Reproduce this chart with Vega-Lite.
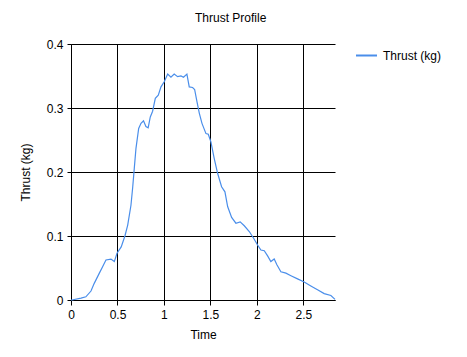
{
  "$schema": "https://vega.github.io/schema/vega-lite/v6.json",
  "width": 264,
  "height": 256,
  "padding": {"left": 19, "top": 12, "right": 5, "bottom": 5},
  "background": "white",
  "title": {"text": "Thrust Profile", "fontSize": 12, "font": "Liberation Sans", "fontWeight": "normal", "color": "#000", "anchor": "middle", "frame": "bounds", "offset": 13},
  "config": {
    "view": {"stroke": null},
    "font": "Liberation Sans",
    "axis": {"gridColor": "#000", "gridOpacity": 1, "gridWidth": 1, "domainColor": "#000", "tickColor": "#000", "tickSize": 5, "labelColor": "#000", "labelFontSize": 12, "titleColor": "#000", "titleFontSize": 12, "titleFontWeight": "normal", "labelFont": "Liberation Sans", "titleFont": "Liberation Sans"}
  },
  "data": {"values": [
    {"t": 0.0, "v": 0.0},
    {"t": 0.01, "v": 0.0},
    {"t": 0.108, "v": 0.003},
    {"t": 0.16, "v": 0.005},
    {"t": 0.215, "v": 0.014},
    {"t": 0.25, "v": 0.026},
    {"t": 0.305, "v": 0.042},
    {"t": 0.34, "v": 0.052},
    {"t": 0.376, "v": 0.0625},
    {"t": 0.43, "v": 0.064},
    {"t": 0.466, "v": 0.06},
    {"t": 0.495, "v": 0.073},
    {"t": 0.54, "v": 0.083},
    {"t": 0.58, "v": 0.1},
    {"t": 0.61, "v": 0.117},
    {"t": 0.645, "v": 0.148},
    {"t": 0.663, "v": 0.175},
    {"t": 0.681, "v": 0.206},
    {"t": 0.699, "v": 0.237},
    {"t": 0.728, "v": 0.268},
    {"t": 0.753, "v": 0.276},
    {"t": 0.78, "v": 0.28},
    {"t": 0.806, "v": 0.271},
    {"t": 0.83, "v": 0.269},
    {"t": 0.853, "v": 0.286},
    {"t": 0.878, "v": 0.295},
    {"t": 0.907, "v": 0.315},
    {"t": 0.939, "v": 0.32},
    {"t": 0.968, "v": 0.333},
    {"t": 1.003, "v": 0.341},
    {"t": 1.04, "v": 0.353},
    {"t": 1.075, "v": 0.348},
    {"t": 1.11, "v": 0.353},
    {"t": 1.147, "v": 0.349},
    {"t": 1.183, "v": 0.35},
    {"t": 1.21, "v": 0.348},
    {"t": 1.247, "v": 0.353},
    {"t": 1.272, "v": 0.333},
    {"t": 1.308, "v": 0.332},
    {"t": 1.33, "v": 0.329},
    {"t": 1.355, "v": 0.31},
    {"t": 1.38, "v": 0.292},
    {"t": 1.409, "v": 0.276},
    {"t": 1.452, "v": 0.26},
    {"t": 1.477, "v": 0.259},
    {"t": 1.505, "v": 0.247},
    {"t": 1.541, "v": 0.221},
    {"t": 1.577, "v": 0.198},
    {"t": 1.62, "v": 0.177},
    {"t": 1.656, "v": 0.169},
    {"t": 1.685, "v": 0.146},
    {"t": 1.728, "v": 0.129},
    {"t": 1.774, "v": 0.12},
    {"t": 1.82, "v": 0.122},
    {"t": 1.864, "v": 0.116},
    {"t": 1.918, "v": 0.107},
    {"t": 1.971, "v": 0.095},
    {"t": 2.007, "v": 0.086},
    {"t": 2.043, "v": 0.078},
    {"t": 2.079, "v": 0.077},
    {"t": 2.115, "v": 0.069},
    {"t": 2.15, "v": 0.06},
    {"t": 2.186, "v": 0.064},
    {"t": 2.215, "v": 0.055},
    {"t": 2.258, "v": 0.044},
    {"t": 2.312, "v": 0.042},
    {"t": 2.366, "v": 0.038},
    {"t": 2.437, "v": 0.033},
    {"t": 2.509, "v": 0.028},
    {"t": 2.58, "v": 0.022},
    {"t": 2.652, "v": 0.016},
    {"t": 2.724, "v": 0.01},
    {"t": 2.796, "v": 0.007},
    {"t": 2.84, "v": 0.001}
  ]},
  "mark": {"type": "line", "strokeWidth": 1.2, "interpolate": "linear"},
  "encoding": {
    "x": {"field": "t", "type": "quantitative", "title": "Time",
      "scale": {"domain": [0, 2.84], "nice": false, "zero": false},
      "axis": {"values": [0, 0.5, 1, 1.5, 2, 2.5], "format": "~g", "labelFlush": false, "labelPadding": 4, "titlePadding": 9}},
    "y": {"field": "v", "type": "quantitative", "title": "Thrust (kg)",
      "scale": {"domain": [0, 0.4], "nice": false},
      "axis": {"values": [0, 0.1, 0.2, 0.3, 0.4], "format": "~g", "labelFlush": false, "tickSize": 4, "labelPadding": 4, "titlePadding": 14}},
    "color": {"datum": "Thrust (kg)", "type": "nominal",
      "scale": {"range": ["#4a8eea"]},
      "legend": {"title": null, "orient": "right", "offset": 20, "symbolType": "stroke", "symbolSize": 441, "symbolStrokeWidth": 2, "labelFontSize": 12, "labelColor": "#000", "labelFont": "Liberation Sans", "labelOffset": 5, "padding": 0}}
  }
}
